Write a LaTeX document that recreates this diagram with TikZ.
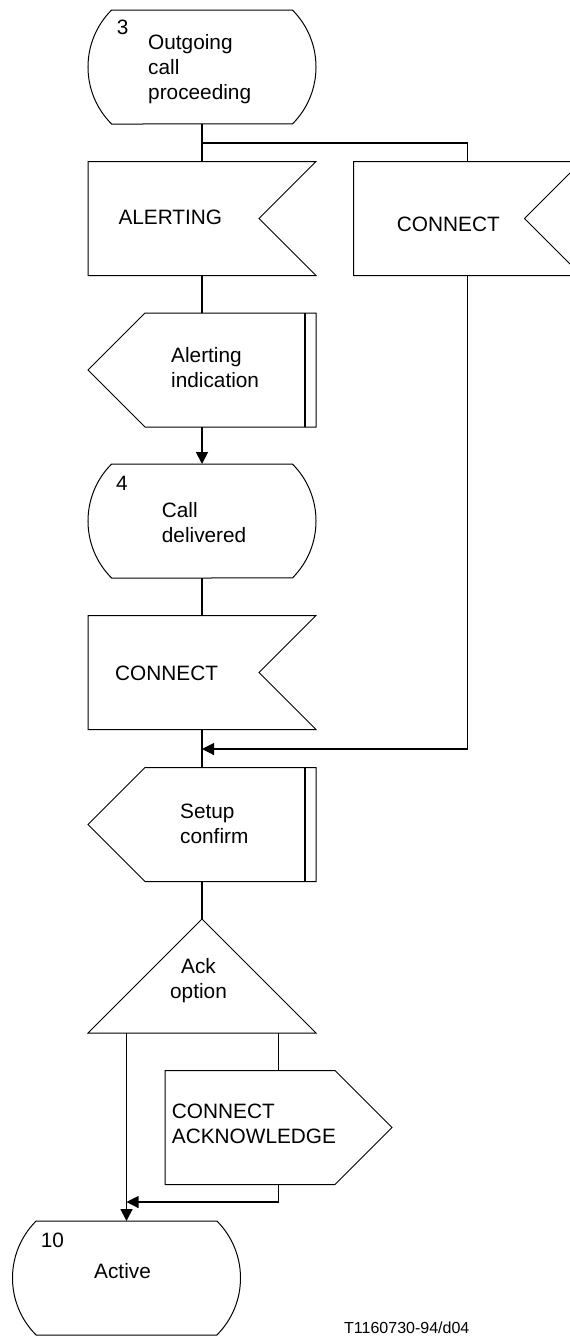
\documentclass[tikz,border=0pt]{standalone}
\usepackage{fontspec}
\setmainfont{Liberation Sans}
\usetikzlibrary{arrows.meta}
\tikzset{
	box/.style={minimum width=228, minimum height=114, inner sep=0pt, outer sep=0pt},
	outline/.style={line width=1pt, line join=miter},
	txt/.style={font=\fontsize{20.8}{25}\selectfont, inner sep=0pt, align=left},
	small/.style={font=\fontsize{16}{19}\selectfont, inner sep=0pt},
	flow/.style={line width=1.8pt},
	side/.style={line width=1.1pt},
	arr/.style={-{Triangle[length=12pt,width=12pt]}},
	state/.style={box, append after command={\pgfextra{
		\draw[outline] ([xshift=23.6]\tikzlastnode.north west) -- ([xshift=-23.6]\tikzlastnode.north east)
			arc[start angle=45, end angle=-45, radius=80.6] -- ([xshift=23.6]\tikzlastnode.south west)
			arc[start angle=225, end angle=135, radius=80.6] -- cycle;}}},
	inbox/.style={box, append after command={\pgfextra{
		\draw[outline] (\tikzlastnode.north west) -- (\tikzlastnode.north east)
			-- ([xshift=-57]\tikzlastnode.east) -- (\tikzlastnode.south east)
			-- (\tikzlastnode.south west) -- cycle;}}},
	outleft/.style={box, append after command={\pgfextra{
		\draw[outline] ([xshift=57]\tikzlastnode.north west) -- (\tikzlastnode.north east)
			-- (\tikzlastnode.south east) -- ([xshift=57]\tikzlastnode.south west)
			-- (\tikzlastnode.west) -- cycle;
		\draw[line width=1.8pt] ([xshift=-11]\tikzlastnode.north east) -- ([xshift=-11]\tikzlastnode.south east);}}},
	outright/.style={box, minimum width=227, append after command={\pgfextra{
		\draw[outline] (\tikzlastnode.north west) -- ([xshift=-57]\tikzlastnode.north east)
			-- (\tikzlastnode.east) -- ([xshift=-57]\tikzlastnode.south east)
			-- (\tikzlastnode.south west) -- cycle;}}},
	choice/.style={box, append after command={\pgfextra{
		\draw[outline] (\tikzlastnode.north) -- (\tikzlastnode.south east)
			-- (\tikzlastnode.south west) -- cycle;}}},
}
\begin{document}
\begin{tikzpicture}[x=1pt, y=1pt]
		\useasboundingbox (0,0) rectangle (570,-1336);
		\node[state] (s3) at (202,-67) {};
		\node[inbox] (in1) at (202,-218.5) {};
		\node[inbox] (in2) at (467.5,-218.5) {};
		\node[outleft] (out1) at (202,-370) {};
		\node[state] (s4) at (202,-521) {};
		\node[inbox] (in3) at (202,-672.5) {};
		\node[outleft] (out2) at (202,-824.5) {};
		\node[choice] (ack) at (202,-976) {};
		\node[outright] (out3) at (278.5,-1127.5) {};
		\node[state] (s10) at (126.5,-1278) {};
		
		\node[txt, anchor=base west] (s3num) at (116.7,-34) {3};
		\node[txt, anchor=north west] (s3txt) at (148,-34.1) {Outgoing\\call\\proceeding};
		\node[txt, anchor=base west] (in1txt) at (118.3,-224) {ALERTING};
		\node[txt, anchor=base west] (in2txt) at (396.7,-231.7) {CONNECT};
		\node[txt, anchor=north west] (out1txt) at (171,-347.5) {Alerting\\indication};
		\node[txt, anchor=base west] (s4num) at (116,-490) {4};
		\node[txt, anchor=north west] (s4txt) at (161.7,-502.1) {Call\\delivered};
		\node[txt, anchor=base west] (in3txt) at (115,-680) {CONNECT};
		\node[txt, anchor=north west] (out2txt) at (180,-803.8) {Setup\\confirm};
		\node[txt, anchor=north, align=center] (acktxt) at (198.5,-958.1) {Ack\\option};
		\node[txt, anchor=north west] (out3txt) at (171.7,-1104.1) {CONNECT\\ACKNOWLEDGE};
		\node[txt, anchor=base west] (s10num) at (40.7,-1247.3) {10};
		\node[txt, anchor=base west] (s10txt) at (94,-1278.3) {Active};
		\node[small, anchor=base west] (ref) at (344,-1333) {T1160730-94/d04};
		
		\coordinate (br) at (202,-143);
		\coordinate (mg1) at (202,-749);
		\coordinate (ackL) at (126.5,-1033);
		\coordinate (ackR) at (278.5,-1033);
		\coordinate (mg2) at (126.5,-1202);
		
		\draw[flow] (s3.south) -- (in1.north);
		\draw[side] (br) -| (in2.north);
		\draw[flow] (in1.south) -- (out1.north);
		\draw[flow, arr] (out1.south) -- (s4.north);
		\draw[flow] (s4.south) -- (in3.north);
		\draw[flow] (in3.south) -- (out2.north);
		\draw[side, arr] (in2.south) |- (mg1);
		\draw[flow] (out2.south) -- (ack.north);
		\draw[flow, arr] (ackL) -- (s10.north);
		\draw[side] (ackR) -- (out3.north);
		\draw[side, arr] (out3.south) |- (mg2);
		
	\end{tikzpicture}
\end{document}
